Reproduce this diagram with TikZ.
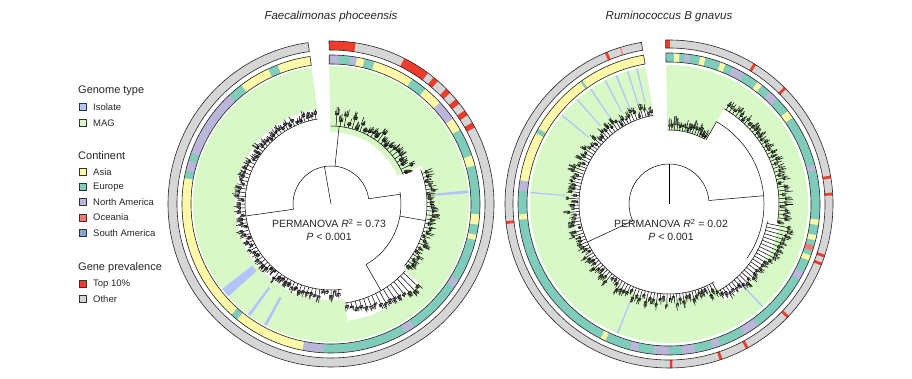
\documentclass[tikz,border=0pt]{standalone}
\usepackage{fontspec}
\setmainfont{Liberation Sans}
\definecolor{cIso}{RGB}{178,196,250}
\definecolor{cMAG}{RGB}{216,248,200}
\definecolor{cAsia}{RGB}{253,249,168}
\definecolor{cEur}{RGB}{127,204,186}
\definecolor{cNA}{RGB}{186,182,217}
\definecolor{cOce}{RGB}{245,120,110}
\definecolor{cSA}{RGB}{128,168,204}
\definecolor{cTop}{RGB}{240,60,45}
\definecolor{cOth}{RGB}{214,214,214}
\newcommand\annsec[5]{\path[#5] (#1:#3) arc[start angle=#1,end angle=#2,radius=#3] -- (#2:#4) arc[start angle=#2,end angle=#1,radius=#4] -- cycle;}
\newcommand\ringseg[6]{%
  \annsec{#1}{#2}{#3}{#4}{fill=#5}
  \foreach \p/\q/\c in {#6} {\annsec{\p}{\q}{#3}{#4}{fill=\c}}
  \annsec{#1}{#2}{#3}{#4}{draw=black!85,line width=0.6pt}}
% a1, a2, base r, cluster width, stem rand, tip len, ramp
\newcommand\cladefan[7]{%
  \draw[br] (#1:#3) arc[start angle=#1,end angle=#2,radius=#3];
  \pgfmathsetmacro\cfB{#1+#4}
  \pgfmathsetmacro\cfL{#2-#4+0.01}
  \foreach \s in {#1,\cfB,...,\cfL} {
    \pgfmathsetmacro\rc{#3+1+#5*rnd+(\s-#1)/(#2-#1)*#7}
    \pgfmathsetmacro\se{\s+#4-0.45}
    \pgfmathsetmacro\sm{(\s+\se)/2}
    \pgfmathsetmacro\tB{\s+0.45}
    \pgfmathsetmacro\rcc{\rc+1+2*rnd}
    \draw[br] (\sm:#3) -- (\sm:\rc);
    \draw[br] (\s:\rc) arc[start angle=\s,end angle=\se,radius=\rc];
    \draw[br] (\s:\rcc) arc[start angle=\s,end angle=\sm,radius=\rcc];
    \foreach \t in {\s,\tB,...,\se} {
      \pgfmathsetmacro\rt{\rc+1+#6*rnd}
      \draw[br] (\t:\rc) -- (\t:\rt);
    }
  }}
\begin{document}
\begin{tikzpicture}[x=1pt,y=1pt,
  br/.style={line width=0.5pt,black},
  legtitle/.style={anchor=west,font=\fontsize{11}{13}\selectfont,text=black!85,inner sep=0pt},
  legitem/.style={anchor=west,font=\fontsize{9.5}{11}\selectfont,text=black!85,inner sep=0pt},
  legkey/.style={draw=black!80,line width=0.5pt,minimum size=7pt,inner sep=0pt},
  ttl/.style={font=\fontsize{11.5}{13}\selectfont\itshape,text=black!85},
  perm/.style={font=\fontsize{10.5}{13}\selectfont,text=black!85,align=center}]
\useasboundingbox (0,0) rectangle (912,379);
\pgfmathsetseed{11}
% ---------------- legend
\node[legtitle] (lg1) at (78,288) {Genome type};
\node[legkey,fill=cIso] (k1) at (82.5,272) {};
\node[legitem] (t1) at (93,272) {Isolate};
\node[legkey,fill=cMAG] (k2) at (82.5,256) {};
\node[legitem] (t2) at (93,256) {MAG};
\node[legtitle] (lg2) at (78,223) {Continent};
\node[legkey,fill=cAsia] (k3) at (82.5,207) {};
\node[legitem] (t3) at (93,207) {Asia};
\node[legkey,fill=cEur] (k4) at (82.5,192) {};
\node[legitem] (t4) at (93,192) {Europe};
\node[legkey,fill=cNA] (k5) at (82.5,177) {};
\node[legitem] (t5) at (93,177) {North America};
\node[legkey,fill=cOce] (k6) at (82.5,161.5) {};
\node[legitem] (t6) at (93,161.5) {Oceania};
\node[legkey,fill=cSA] (k7) at (82.5,146) {};
\node[legitem] (t7) at (93,146) {South America};
\node[legtitle] (lg3) at (78,111) {Gene prevalence};
\node[legkey,fill=cTop] (k8) at (82.5,95) {};
\node[legitem] (t8) at (93,95) {Top 10\%};
\node[legkey,fill=cOth] (k9) at (82.5,80) {};
\node[legitem] (t9) at (93,80) {Other};
% ---------------- titles
\node[ttl] (ttlA) at (331,362) {Faecalimonas phoceensis};
\node[ttl] (ttlB) at (669,362) {Ruminococcus B gnavus};
% ================= LEFT TREE
\begin{scope}[shift={(331,175)}]
  \annsec{98.1}{278}{96}{138}{fill=cMAG}
  \annsec{278}{318}{118}{138}{fill=cMAG}
  \annsec{318}{383}{98}{138}{fill=cMAG}
  \annsec{383}{450.7}{72}{138}{fill=cMAG}
  \foreach \a/\w/\r in {218/4/100,233/1.2/104,241/1.2/106,364.5/1.2/104}
    {\annsec{\a}{\a+\w}{\r}{138}{fill=cIso}}
  \ringseg{98.1}{450.7}{140}{149}{cEur}{98.1/111/cAsia,115/127/cAsia,133/160/cNA,163/167/cNA,170/228/cAsia,231/259/cAsia,259/267/cNA,300/304/cNA,326/329/cNA,346/348/cAsia,352/356/cAsia,375/379/cAsia,390/395/cAsia,395/403/cNA,403/410.6/cAsia,417/433/cAsia,437/440/cAsia,440/442.5/cNA,447/450.7/cNA}
  \ringseg{98.1}{450.7}{154}{163}{cOth}{441.3/450.7/cTop,413.5/423.3/cTop,409/411/cTop,403/405/cTop,398/400/cTop,393/395/cTop,388/390/cTop}
  % tree
  \coordinate (rootA) at (0,0);
  \draw[br] (rootA) -- (100:38);
  \draw[br] (8:38) arc[start angle=8,end angle=188,radius=38];
  \draw[br] (188:38) -- (188:86);
  \draw[br] (84:38) -- (84:78);
  \draw[br] (8:38) -- (8:70);
  \draw[br] (300:70) arc[start angle=300,end angle=370,radius=70];
  \draw[br] (300:70) -- (300:100);
  \draw[br] (350:70) -- (350:96);
  \cladefan{99}{277}{86}{2.5}{6}{6}{0}
  \cladefan{278}{318}{100}{2.5}{4}{5}{18}
  \cladefan{320}{381}{96}{2.5}{5}{7}{0}
  \cladefan{382}{450}{78}{3}{12}{7}{0}
  \node[perm] (pA) at (-2,-26) {PERMANOVA \textit{R}\textsuperscript{2} = 0.73\\\textit{P} < 0.001};
\end{scope}
% ================= RIGHT TREE
\begin{scope}[shift={(669,175)}]
  \annsec{99.7}{300}{96}{139}{fill=cMAG}
  \annsec{300}{350}{112}{139}{fill=cMAG}
  \annsec{350}{420}{110}{139}{fill=cMAG}
  \annsec{420}{451.2}{74}{139}{fill=cMAG}
  \foreach \a in {103,107,112,117,124,131,140,175,248,312}
    {\annsec{\a}{\a+0.6}{104}{139}{fill=cIso}}
  \ringseg{99.7}{451.2}{142}{151}{cEur}{99.7/125/cAsia,126/150/cAsia,152/171/cAsia,171/175/cNA,184/186/cAsia,243/245/cAsia,255/258/cNA,264/270/cNA,275/280/cNA,287/290/cNA,300/306/cNA,330/333/cNA,338/340/cAsia,342/344/cOce,346/348/cAsia,352/354/cAsia,373/375/cNA,395/398/cAsia,404/408/cNA,412/414/cAsia,420/425/cNA,428/430/cAsia,436/438/cAsia,442/444/cNA,446/448/cAsia}
  \ringseg{99.7}{451.2}{156}{164}{cOth}{449.7/451.2/cTop,418/419/cTop,404.5/405.5/cTop,369/370/cTop,363/364/cTop,341/342/cTop,338/339/cTop,316/317/cTop,298/299/cTop,288/289/cTop,270.3/271.2/cTop,186/187/cTop,112/113/cTop,107/107.5/cTop!60}
  % tree
  \coordinate (rootB) at (0,0);
  \draw[br] (rootB) -- (90:40);
  \draw[br] (90:40) arc[start angle=90,end angle=205,radius=40];
  \draw[br] (205:40) -- (205:90);
  \draw[br] (90:40) arc[start angle=90,end angle=5,radius=40];
  \draw[br] (5:40) -- (5:95);
  \draw[br] (325:95) arc[start angle=325,end angle=420,radius=95];
  \draw[br] (420:95) -- (420:74);
  \cladefan{100}{300}{90}{2}{10}{6}{0}
  \cladefan{300}{350}{100}{2}{5}{6}{18}
  \cladefan{350}{420}{110}{2}{6}{7}{0}
  \cladefan{421}{451}{74}{2}{5}{8}{0}
  \node[perm] (pB) at (2,-26) {PERMANOVA \textit{R}\textsuperscript{2} = 0.02\\\textit{P} < 0.001};
\end{scope}
\end{tikzpicture}
\end{document}
